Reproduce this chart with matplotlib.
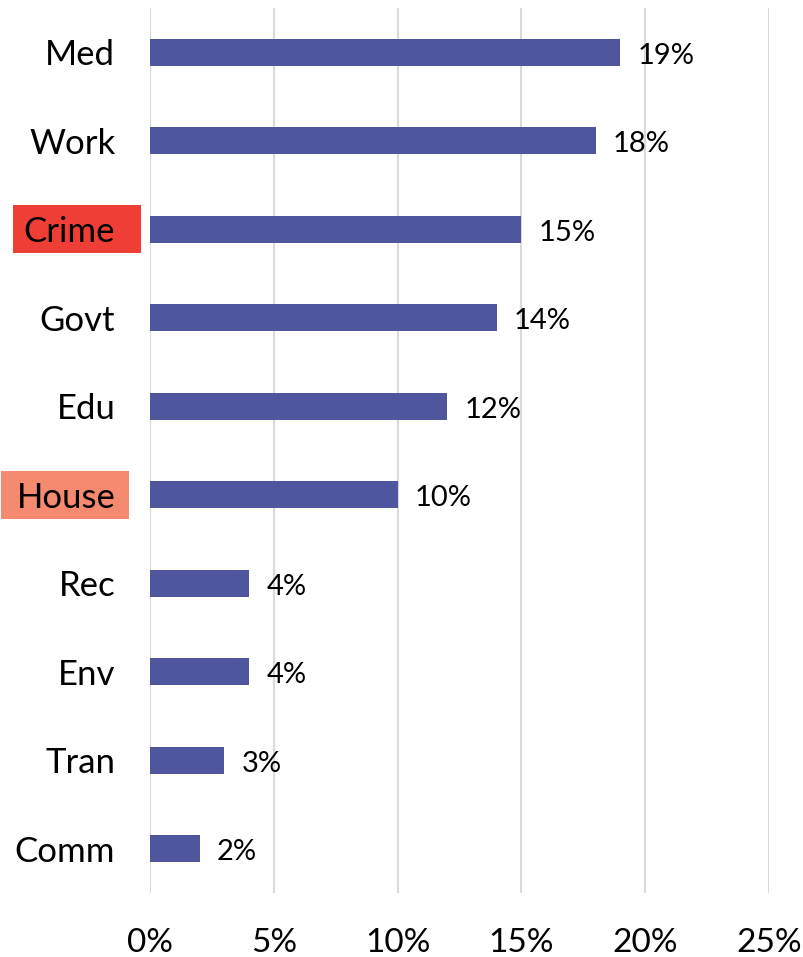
import matplotlib
matplotlib.use("Agg")
import matplotlib.pyplot as plt
from matplotlib.patches import Rectangle
from matplotlib.ticker import FuncFormatter

categories = ["Med", "Work", "Crime", "Govt", "Edu", "House", "Rec", "Env", "Tran", "Comm"]
values = [19, 18, 15, 14, 12, 10, 4, 4, 3, 2]
xticks = [0, 5, 10, 15, 20, 25]
highlight = {"Crime": "#EF3E36", "House": "#F58A70"}

plt.rcParams['font.family'] = ['Lato', 'DejaVu Sans']

W, H = 804, 957
fig = plt.figure(figsize=(W / 100, H / 100), dpi=100)
ax = fig.add_axes([150 / W, 1 - 893 / H, (769 - 150) / W, (893 - 8) / H])

y = list(range(len(categories)))
ax.barh(y, values, height=0.31, color="#4F569E", zorder=3)
ax.set_ylim(len(categories) - 0.5, -0.5)
ax.set_xlim(0, 25)
ax.set_xticks(xticks)
ax.xaxis.set_major_formatter(FuncFormatter(lambda v, p: f"{v:.0f}%"))
ax.set_yticks(y)
ax.set_yticklabels(categories)
ax.tick_params(axis='y', length=0, pad=25, labelsize=25)
ax.tick_params(axis='x', length=0, pad=25, labelsize=24)
ax.grid(axis='x', color="#D9D9D9", linewidth=1.5, zorder=0)
for s in ax.spines.values():
    s.set_visible(False)

for yi, v in zip(y, values):
    ax.annotate(f"{v}%", xy=(v, yi), xytext=(12.5, -2.5), textcoords='offset points',
                va='center', ha='left', fontsize=21)

# highlighted label boxes
boxes = {"Crime": (13, 141), "House": (1, 129)}
for name, color in highlight.items():
    i = categories.index(name)
    x0, x1 = boxes[name]
    yc = ax.transData.transform((0, i))[1]
    rect = Rectangle((x0 / W, (yc - 24) / H), (x1 - x0) / W, 48 / H,
                     transform=fig.transFigure, facecolor=color, edgecolor='none', zorder=-1)
    fig.patches.append(rect)

fig.savefig("out.png", dpi=100)
